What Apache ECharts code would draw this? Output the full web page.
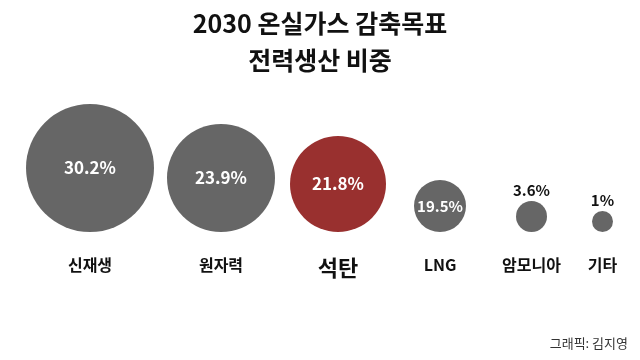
<!DOCTYPE html>
<html>
<head>
<meta charset="utf-8">
<script src="https://cdn.jsdelivr.net/npm/echarts@6/dist/echarts.min.js"></script>
<style>
html,body{margin:0;padding:0;background:#fff;}
#chart{width:640px;height:360px;}
</style>
</head>
<body>
<div id="chart"></div>
<script>
// ---- data ----
const categories = ['신재생', '원자력', '석탄', 'LNG', '암모니아', '기타'];
const shares = [30.2, 23.9, 21.8, 19.5, 3.6, 1];
const titleLines = ['2030 온실가스 감축목표', '전력생산 비중'];
const sourceText = '그래픽: 김지영';
const highlight = '석탄';

// ---- layout / style (not data) ----
const diameters = [128, 108, 96, 52, 31, 21];
const leftEdge = 26;
const gaps = [13, 15, 28, 50, 45];
const FONT = '"Noto Sans CJK KR", "Noto Sans", sans-serif';
const GREY = '#666666';
const RED = '#99302f';

// centers along a hidden pixel-unit axis, packed from bubble sizes and gaps
const centers = [];
let cursor = leftEdge;
diameters.forEach((d, i) => {
  if (i > 0) cursor += gaps[i - 1];
  centers.push(cursor + d / 2);
  cursor += d;
});

const seriesData = categories.map((c, i) => {
  const small = diameters[i] < 40;
  return {
    name: c,
    value: [centers[i], 0, shares[i]],
    symbolSize: diameters[i],
    symbolOffset: [0, -diameters[i] / 2],
    itemStyle: { color: c === highlight ? RED : GREY, opacity: 1 },
    label: small ? {
      position: 'top', distance: 3, color: '#111', fontSize: 15, fontWeight: 'bold'
    } : {
      position: 'inside', color: '#fff', fontWeight: 'bold',
      fontSize: diameters[i] > 80 ? 17 : 15
    }
  };
});

const chart = echarts.init(document.getElementById('chart'), null, { renderer: 'canvas' });
chart.setOption({
  backgroundColor: '#ffffff',
  animation: false,
  textStyle: { fontFamily: FONT },
  title: {
    text: titleLines.join('\n'),
    left: 'center',
    top: 0,
    padding: 5,
    textStyle: { fontFamily: FONT, fontSize: 25, fontWeight: 'bold', color: '#111', lineHeight: 37 }
  },
  graphic: [{
    type: 'text',
    right: 12,
    top: 337,
    style: { text: sourceText, font: '13px ' + FONT, fill: '#333' }
  }],
  grid: { left: 0, right: 0, top: 0, bottom: 128, containLabel: false },
  xAxis: {
    type: 'value', min: 0, max: 640,
    splitLine: { show: false }, axisLine: { show: false }, axisTick: { show: false },
    axisLabel: {
      show: true,
      customValues: centers,
      margin: 25,
      formatter: function (v) {
        let k = 0, best = 1e9;
        centers.forEach((c, j) => { if (Math.abs(c - v) < best) { best = Math.abs(c - v); k = j; } });
        const name = categories[k];
        return name === highlight ? '{hl|' + name + '}' : '{n|' + name + '}';
      },
      rich: {
        n: { fontFamily: FONT, fontSize: 16, fontWeight: 'bold', color: '#111' },
        hl: { fontFamily: FONT, fontSize: 22, fontWeight: 'bold', color: '#111' }
      }
    }
  },
  yAxis: { type: 'value', min: 0, max: 1, show: false },
  series: [{
    type: 'scatter',
    clip: false,
    data: seriesData,
    label: {
      show: true,
      fontFamily: FONT,
      formatter: p => p.value[2] + '%'
    },
    emphasis: { disabled: true }
  }]
});
</script>
</body>
</html>
